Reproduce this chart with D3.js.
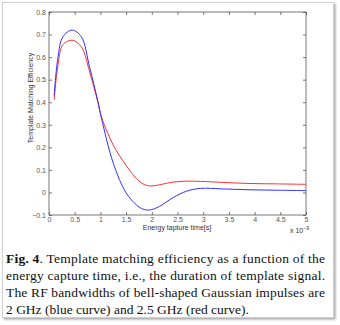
<!DOCTYPE html>
<html><head><meta charset="utf-8">
<script src="https://cdn.jsdelivr.net/npm/d3@7"></script>
<style>
html,body{margin:0;padding:0;background:#fff;}
svg{display:block;}
</style></head>
<body>
<svg id="c" width="340" height="325"></svg>
<script>
const time = [0.1, 0.175, 0.27, 0.45, 0.63, 0.79, 0.95, 1.02, 1.25, 1.5, 1.7, 1.8, 1.9, 2.0, 2.15, 2.42, 2.68, 2.95, 3.35, 3.85, 4.4, 5.0];
const blueSeries = [0.43, 0.60, 0.69, 0.72, 0.69, 0.555, 0.405, 0.33, 0.13, -0.002, -0.055, -0.071, -0.078, -0.076, -0.062, -0.022, 0.006, 0.018, 0.016, 0.012, 0.010, 0.008];
const redSeries = [0.41, 0.565, 0.655, 0.675, 0.645, 0.535, 0.40, 0.335, 0.21, 0.12, 0.062, 0.042, 0.031, 0.029, 0.034, 0.046, 0.05, 0.049, 0.045, 0.040, 0.038, 0.036];
const xTicks = [0, 0.5, 1, 1.5, 2, 2.5, 3, 3.5, 4, 4.5, 5];
const yTicks = [-0.1, 0, 0.1, 0.2, 0.3, 0.4, 0.5, 0.6, 0.7, 0.8];
const xLabel = "Energy tapture time[s]";
const yLabel = "Template Matching Efficiency";
const captionLines = [
  ["Fig. 4", ".  Template matching efficiency as a function of the"],
  ["", "energy capture time, i.e., the duration of template signal."],
  ["", "The RF bandwidths of bell-shaped Gaussian impulses are"],
  ["", "2 GHz (blue curve) and 2.5 GHz (red curve)."]
];

const svg = d3.select("#c");
const defs = svg.append("defs");
const f = defs.append("filter").attr("id","sh").attr("x","-5%").attr("y","-5%").attr("width","115%").attr("height","115%");
f.append("feDropShadow").attr("dx",1.5).attr("dy",1.5).attr("stdDeviation",1.2).attr("flood-color","#000").attr("flood-opacity",0.35);

svg.append("rect").attr("x",2.5).attr("y",2.5).attr("width",331).attr("height",315)
  .attr("fill","#fff").attr("stroke","#d0d0d0").attr("stroke-width",1).attr("filter","url(#sh)");

const L = 49, R = 306, T = 12, B = 215;
const x = d3.scaleLinear().domain([0,5]).range([L,R]);
const y = d3.scaleLinear().domain([-0.1,0.8]).range([B,T]);

const g = svg.append("g");
const axColor = "#555";
const fmt = d => d === 0 ? "0" : d3.format("")(+d.toFixed(1));

function styleAxis(sel, showLabels){
  sel.select(".domain").remove();
  sel.selectAll(".tick line").attr("stroke",axColor).attr("stroke-width",0.8);
  sel.selectAll(".tick text").attr("fill","#555").attr("font-family","Liberation Sans, Arial, sans-serif").attr("font-size","7px");
  if(!showLabels) sel.selectAll(".tick text").remove();
}
g.append("g").attr("transform",`translate(0,${B})`)
  .call(d3.axisBottom(x).tickValues(xTicks).tickSize(-3).tickPadding(2).tickFormat(fmt))
  .call(s=>styleAxis(s,true));
g.append("g").attr("transform",`translate(0,${T})`)
  .call(d3.axisTop(x).tickValues(xTicks).tickSize(-3))
  .call(s=>styleAxis(s,false));
g.append("g").attr("transform",`translate(${L},0)`)
  .call(d3.axisLeft(y).tickValues(yTicks).tickSize(-3).tickPadding(3).tickFormat(fmt))
  .call(s=>styleAxis(s,true));
g.append("g").attr("transform",`translate(${R},0)`)
  .call(d3.axisRight(y).tickValues(yTicks).tickSize(-3))
  .call(s=>styleAxis(s,false));

g.append("rect").attr("x",L).attr("y",T).attr("width",R-L).attr("height",B-T)
  .attr("fill","none").attr("stroke",axColor).attr("stroke-width",0.8);

const line = d3.line().curve(d3.curveCatmullRom.alpha(0.5));
const clip = defs.append("clipPath").attr("id","pc");
clip.append("rect").attr("x",L).attr("y",T).attr("width",R-L).attr("height",B-T);

g.append("path").attr("clip-path","url(#pc)")
  .attr("d", line(time.map((t,i)=>[x(t), y(redSeries[i])])))
  .attr("fill","none").attr("stroke","#ff3030").attr("stroke-width",1);
g.append("path").attr("clip-path","url(#pc)")
  .attr("d", line(time.map((t,i)=>[x(t), y(blueSeries[i])])))
  .attr("fill","none").attr("stroke","#3030ff").attr("stroke-width",1);

g.append("text").attr("x",177).attr("y",230).attr("text-anchor","middle")
  .attr("font-family","Liberation Sans, Arial, sans-serif").attr("font-size","7px").attr("fill","#333")
  .text(xLabel);
const ex = g.append("text").attr("x",290).attr("y",233)
  .attr("font-family","Liberation Sans, Arial, sans-serif").attr("font-size","7px").attr("fill","#333");
ex.append("tspan").text("x 10");
ex.append("tspan").attr("dy",-3).attr("font-size","5px").text("\u22129");

g.append("text").attr("transform","translate(33,98) rotate(-90)").attr("text-anchor","middle")
  .attr("font-family","Liberation Sans, Arial, sans-serif").attr("font-size","7px").attr("fill","#333")
  .text(yLabel);

const cap = svg.append("g").attr("font-family","Liberation Serif, Times New Roman, serif").attr("font-size","13.5px").attr("fill","#111");
const lineY = [263, 280, 297, 313.5];
captionLines.forEach((ln,i)=>{
  const t = cap.append("text").attr("x",6).attr("y",lineY[i]);
  if(ln[0]) t.append("tspan").attr("font-weight","bold").text(ln[0]);
  t.append("tspan").text(ln[1]);
  if(i<3) t.attr("textLength",319).attr("lengthAdjust","spacing");
});
</script>
</body></html>
